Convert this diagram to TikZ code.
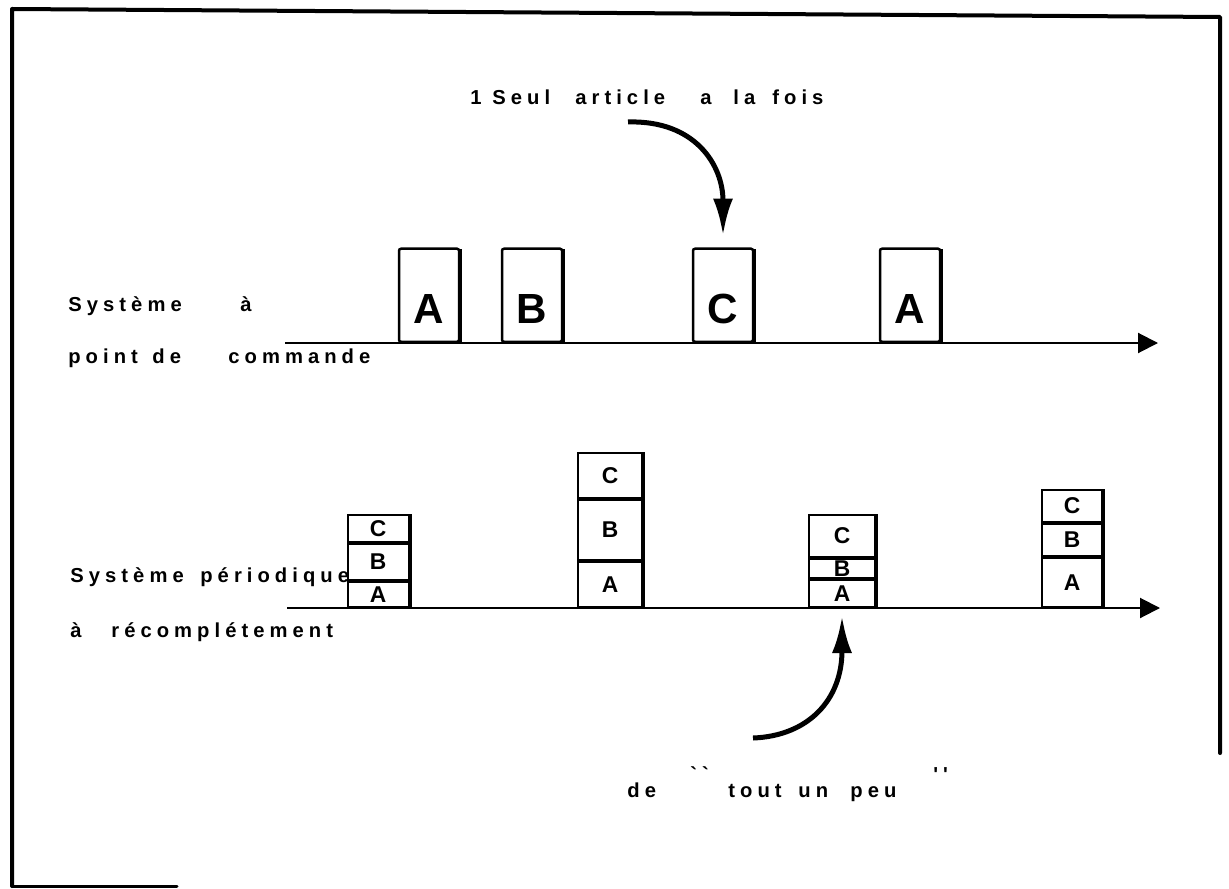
\documentclass[tikz,border=0pt]{standalone}
\usepackage{fontspec}
\setmainfont{Liberation Sans}
\newfontfamily\typo{Liberation Sans}[LetterSpace=25]
\usetikzlibrary{arrows.meta,positioning}
\newlength\px
\setlength\px{0.02cm}
% one word in a slot of fixed width (in px)
\newcommand{\slot}[2]{\makebox[#1\px][l]{#2}}

\begin{document}
\begin{tikzpicture}[
x=1\px, y=-1\px,
Frame/.style={line width=4\px,line cap=round,line join=round},
Axis/.style={line width=2\px,-{Triangle[length=0.4cm,width=0.4cm]}},
BigArrow/.style={line width=5\px,-{Latex[length=0.74cm,width=0.4cm]}},
Boxes/.style={draw,line width=2.5\px,rounded corners=2\px,minimum width=60\px,
  inner sep=0pt,text height=75\px,text depth=18\px,anchor=south,
  font=\typo\bfseries\fontsize{24}{24}\selectfont},
Cells/.style={draw,line width=2\px,inner sep=0pt,text height=9pt,text depth=0pt,
  font=\typo\bfseries\fontsize{13}{13}\selectfont},
Shade/.style={line width=4\px},
Labels/.style={anchor=base west,inner sep=0pt,
  font=\typo\bfseries\fontsize{11.5}{11.5}\selectfont}
]
\useasboundingbox (0,0) rectangle (1229,888);

% frame of the scanned page
\draw[Frame] (1220,753) -- (1220,17) -- (12,9) -- (12,886);
\draw[Frame,line width=3\px] (12,886) -- (177,886);

% time axes
\coordinate (t0) at (285,343);
\coordinate (t1) at (1158,343);
\coordinate (p0) at (287,608);
\coordinate (p1) at (1160,608);
\draw[Axis] (t0) -- (t1);
\draw[Axis] (p0) -- (p1);

% ordering point system: one article per order
\foreach \n/\x/\t in {1/429/A,2/532/B,3/723/C,4/910/A}{
  \node[Boxes] (box\n) at (\x,343) {\t};
  \draw[Shade] (box\n.south east) -- ([yshift=-2\px]box\n.north east);
}

% periodic system: a bit of everything
\foreach \n/\x/\w/\ha/\hb/\hc in {1/378/61/25/36/27,2/610/64/45/60/45,
    3/842/66/27/19/42,4/1072/60/49/32/32}{
  \node[Cells,minimum width=\w\px,minimum height=\ha\px,anchor=south] (a\n) at (\x,608) {A};
  \node[Cells,minimum width=\w\px,minimum height=\hb\px,above=0pt of a\n] (b\n) {B};
  \node[Cells,minimum width=\w\px,minimum height=\hc\px,above=0pt of b\n] (c\n) {C};
  \draw[Shade] (a\n.south east) -- (c\n.north east);
}

% texts
\node[Labels] (seul) at (470,105) {\slot{22}{1}\slot{83}{Seul}\slot{125}{article}\slot{33}{a}\slot{39}{la}fois};
\node[Labels] (sys1) at (68,311) {\slot{172}{Système}à};
\node[Labels] (pdc) at (68,363) {\slot{84}{point}\slot{76}{de}commande};
\node[Labels] (sys2) at (70,582) {\slot{130}{Système}périodique};
\node[Labels] (rec) at (70,637) {\slot{41}{à}récomplétement};
\node[Labels] (peu) at (627,797) {\slot{63}{de}\slot{38}{\raisebox{9pt}{``}}\slot{70}{tout}\slot{52}{un}\slot{83}{peu}\raisebox{9pt}{''}};

% arrows
\coordinate (tailTop) at (628,122);
\draw[BigArrow,shorten >=12\px] (tailTop) .. controls (695,120) and (723,165) .. (box3.north);
\coordinate (tailBot) at (753,738);
\draw[BigArrow,shorten >=8\px] (tailBot) .. controls (808,736) and (842,700) .. (a3.south);

\end{tikzpicture}
\end{document}
